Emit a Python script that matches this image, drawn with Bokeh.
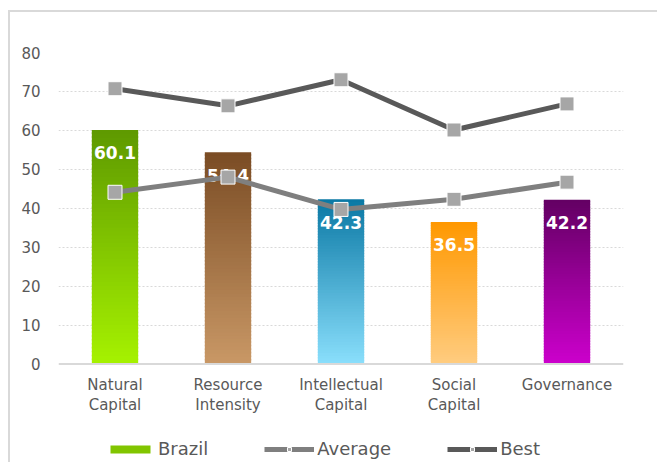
from bokeh.plotting import figure
from bokeh.models import (ColumnDataSource, FixedTicker, Legend, LegendItem, Range1d, Span)
from bokeh.core.properties import value
from bokeh.embed import file_html
from bokeh.resources import INLINE

categories = ["Natural\nCapital", "Resource\nIntensity", "Intellectual\nCapital", "Social\nCapital", "Governance"]
brazil = [60.1, 54.4, 42.3, 36.5, 42.2]
average = [44.1, 48.0, 39.7, 42.3, 46.7]
best = [70.7, 66.3, 73.0, 60.1, 66.8]
y_ticks = [0, 10, 20, 30, 40, 50, 60, 70, 80]

# gradient colours (top, bottom) for each bar
bar_grad = [((0x5e, 0x99, 0x00), (0xa6, 0xf2, 0x00)),
            ((0x7a, 0x4c, 0x24), (0xc9, 0x98, 0x66)),
            ((0x0a, 0x78, 0xa4), (0x8a, 0xdf, 0xfc)),
            ((0xff, 0x98, 0x00), (0xff, 0xcc, 0x80)),
            ((0x63, 0x00, 0x63), (0xcc, 0x00, 0xcc))]

FONT = "DejaVu Sans"
GREY = "#595959"

xs = [i + 0.5 for i in range(len(categories))]

# frame: 310 px for 0..80, plus 100 px below zero for category labels and legend
PX_PER_UNIT = 310 / 80
p = figure(width=647, height=450, output_backend="svg", toolbar_location=None,
           x_range=Range1d(0, len(categories)), y_range=Range1d(-100 / PX_PER_UNIT, 80),
           x_axis_location=None,
           min_border_left=48, min_border_right=36, min_border_top=40, min_border_bottom=0)
p.outline_line_color = None
p.background_fill_color = "white"
p.border_fill_color = "white"
p.styles = {"margin-left": "8px", "margin-top": "10px", "box-sizing": "content-box",
            "border-left": "2px solid #d9d9d9", "border-top": "2px solid #d9d9d9"}

# gradient bars made of thin slices
N = 60
left, right, bottom, top, color = [], [], [], [], []
for i, v in enumerate(brazil):
    (tr, tg, tb), (br, bg, bb) = bar_grad[i]
    for k in range(N):
        f0 = k / N
        f1 = (k + 1) / N
        t = (k + 0.5) / N  # 0 bottom -> 1 top
        r = round(br + (tr - br) * t)
        g = round(bg + (tg - bg) * t)
        b = round(bb + (tb - bb) * t)
        left.append(xs[i] - 0.205)
        right.append(xs[i] + 0.205)
        bottom.append(v * f0)
        top.append(min(v, v * f1 + 0.4))
        color.append("#%02x%02x%02x" % (r, g, b))
src = ColumnDataSource(dict(left=left, right=right, bottom=bottom, top=top, color=color))
bars = p.quad(left="left", right="right", bottom="bottom", top="top", fill_color="color",
              line_color=None, source=src)

# baseline
p.add_layout(Span(location=0, dimension="width", line_color="#d9d9d9", line_width=2))

# category labels (below the baseline)
cat_src = ColumnDataSource(dict(x=xs, y=[0] * len(xs), t=categories))
p.text(x="x", y="y", text="t", source=cat_src, text_color=GREY, text_font=value(FONT),
       text_font_size="15px", text_align="center", text_baseline="top",
       text_line_height=1.1, y_offset=12)

# data labels
lab = ColumnDataSource(dict(x=xs, y=brazil, t=["%.1f" % v for v in brazil]))
p.text(x="x", y="y", text="t", source=lab, text_color="white", text_font=value(FONT),
       text_font_style="bold", text_font_size="17px", text_align="center",
       text_baseline="middle", y_offset=23)

# lines
avg_line = p.line(xs, average, line_color="#7f7f7f", line_width=5)
avg_mk = p.scatter(xs, average, marker="square", size=14, fill_color="#a6a6a6",
                   line_color="white", line_width=1)
best_line = p.line(xs, best, line_color="#595959", line_width=5)
best_mk = p.scatter(xs, best, marker="square", size=14, fill_color="#a6a6a6",
                    line_color="white", line_width=1)

# y axis
p.yaxis.ticker = FixedTicker(ticks=y_ticks)
p.yaxis.axis_line_color = None
p.yaxis.major_tick_line_color = None
p.yaxis.major_tick_out = 0
p.yaxis.major_tick_in = 0
p.yaxis.minor_tick_line_color = None
p.yaxis.major_label_text_font = FONT
p.yaxis.major_label_text_font_size = "15px"
p.yaxis.major_label_text_color = GREY
p.yaxis.major_label_standoff = 18

p.xgrid.grid_line_color = None
p.ygrid.ticker = FixedTicker(ticks=y_ticks[1:])
p.ygrid.grid_line_color = "#d9d9d9"
p.ygrid.grid_line_dash = "2 2"
p.ygrid.grid_line_width = 1

legend = Legend(items=[
    LegendItem(label="Brazil", renderers=[bars], index=30),
    LegendItem(label="Average", renderers=[avg_line, avg_mk]),
    LegendItem(label="Best", renderers=[best_line, best_mk]),
], orientation="horizontal", location=(47, 5))
legend.label_text_font = FONT
legend.label_text_font_size = "18px"
legend.label_text_color = GREY
legend.glyph_width = 50
legend.glyph_height = 10
legend.label_standoff = 3
legend.spacing = 56
legend.padding = 0
legend.margin = 0
legend.border_line_color = None
legend.background_fill_alpha = 0
p.add_layout(legend, "center")

open("out.html", "w").write(file_html(p, INLINE))
